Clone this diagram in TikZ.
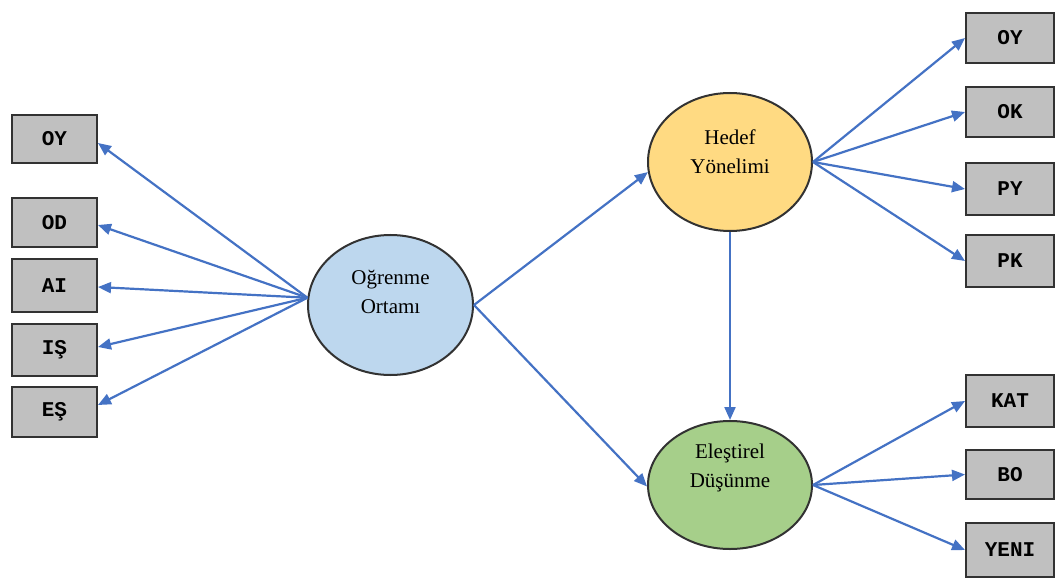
\documentclass[tikz,border=0pt]{standalone}
\usepackage{fontspec}
\setmainfont{Liberation Serif}
\newfontfamily\boxfont{Liberation Mono}
\usetikzlibrary{arrows.meta,shapes.geometric}
\definecolor{arrowblue}{RGB}{68,114,196}
\definecolor{boxgray}{RGB}{192,192,192}
\definecolor{edgegray}{RGB}{50,50,50}
\definecolor{ellblue}{RGB}{189,215,238}
\definecolor{ellyellow}{RGB}{255,218,130}
\definecolor{ellgreen}{RGB}{166,207,138}
\tikzset{
  varbox/.style={draw=edgegray, fill=boxgray, line width=2pt, rectangle, inner sep=0pt,
    font=\boxfont\bfseries\fontsize{21}{24}\selectfont},
  leftbox/.style={varbox, minimum width=85pt},
  rightbox/.style={varbox, minimum width=88pt},
  latent/.style={draw=edgegray, line width=2pt, ellipse, inner sep=0pt},
  latenttext/.style={align=center, font=\fontsize{21}{29}\selectfont, inner sep=0pt},
  conn/.style={draw=arrowblue, line width=2.2pt, -{Triangle[length=13pt,width=11pt]}}
}
\begin{document}
\begin{tikzpicture}[x=1pt,y=-1pt]
\useasboundingbox (0,0) rectangle (1056,585);
% latent ellipses
\node[latent, fill=ellblue, minimum width=165pt, minimum height=140pt] (o) at (390.5,305) {};
\node[latent, fill=ellyellow, minimum width=164pt, minimum height=138pt] (h) at (730,162) {};
\node[latent, fill=ellgreen, minimum width=164pt, minimum height=128pt] (e) at (730,485) {};
\node[latenttext] (ot) at (390.5,292) {Oğrenme\\Ortamı};
\node[latenttext] (ht) at (730,152) {Hedef\\Yönelimi};
\node[latenttext] (et) at (730,468) {Eleştirel\\Düşünme};
% left boxes
\node[leftbox, minimum height=48pt] (loy) at (54.5,139) {OY};
\node[leftbox, minimum height=49pt] (lod) at (54.5,222.5) {OD};
\node[leftbox, minimum height=53pt] (lai) at (54.5,285.5) {AI};
\node[leftbox, minimum height=52pt] (lis) at (54.5,350) {IŞ};
\node[leftbox, minimum height=50pt] (les) at (54.5,412) {EŞ};
% right boxes
\node[rightbox, minimum height=50pt] (roy) at (1010,38) {OY};
\node[rightbox, minimum height=50pt] (rok) at (1010,112) {OK};
\node[rightbox, minimum height=52pt] (rpy) at (1010,189) {PY};
\node[rightbox, minimum height=52pt] (rpk) at (1010,261) {PK};
\node[rightbox, minimum height=52pt] (rkat) at (1010,401) {KAT};
\node[rightbox, minimum height=49pt] (rbo) at (1010,474.5) {BO};
\node[rightbox, minimum height=54pt] (ryeni) at (1010,550) {YENI};
% connectors from Ogrenme Ortami
\draw[conn] (o.175) -- ([yshift=-4pt]loy.east);
\draw[conn] (o.175) -- ([yshift=-2.5pt]lod.east);
\draw[conn] (o.175) -- ([yshift=-1.5pt]lai.east);
\draw[conn] (o.175) -- ([yshift=3pt]lis.east);
\draw[conn] (o.175) -- ([yshift=7pt]les.east);
\draw[conn] (o.east) -- (h.187);
\draw[conn] (o.east) -- (e.181);
\draw[conn] (h.south) -- (e.north);
% Hedef Yonelimi indicators
\draw[conn] (h.east) -- (roy.west);
\draw[conn] (h.east) -- (rok.west);
\draw[conn] (h.east) -- (rpy.west);
\draw[conn] (h.east) -- (rpk.west);
% Elestirel Dusunme indicators
\draw[conn] (e.east) -- (rkat.west);
\draw[conn] (e.east) -- (rbo.west);
\draw[conn] (e.east) -- (ryeni.west);
\end{tikzpicture}
\end{document}
